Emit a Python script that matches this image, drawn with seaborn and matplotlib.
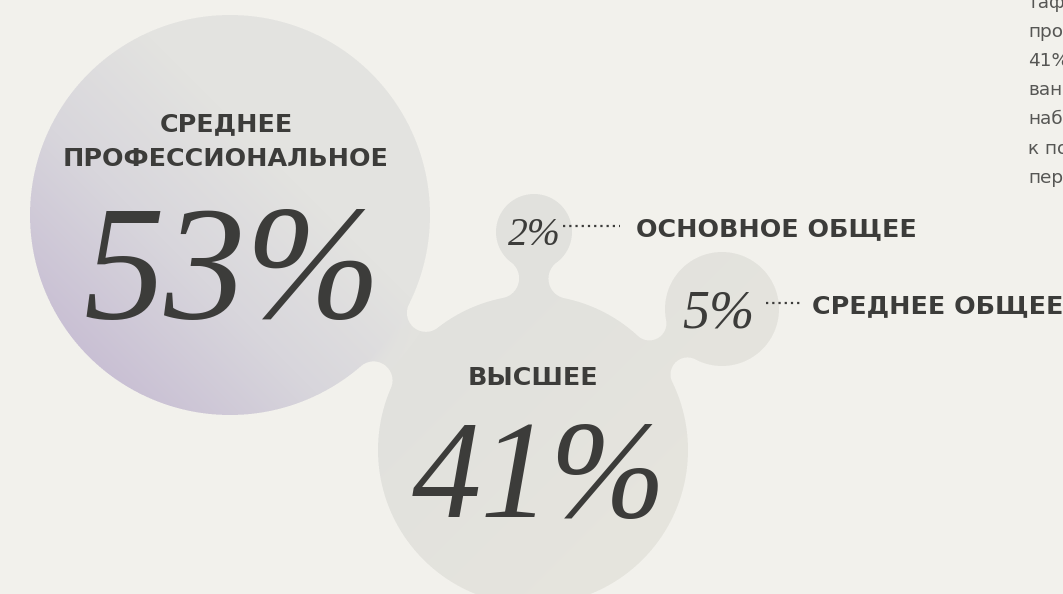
import numpy as np
import matplotlib
matplotlib.use("Agg")
import matplotlib.pyplot as plt
import seaborn as sns

# ---- data ----
level_labels = ["СРЕДНЕЕ\nПРОФЕССИОНАЛЬНОЕ", "ВЫСШЕЕ", "ОСНОВНОЕ ОБЩЕЕ", "СРЕДНЕЕ ОБЩЕЕ"]
shares = [53, 41, 2, 5]
side_lines = ["таф", "про", "41%", "ван", "наб", "к по", "пер"]

# ---- layout (pixel units, y pointing down) ----
W, H = 1063, 594
centers = [(230, 215), (533, 450), (534, 232), (722, 309)]
radii = [200, 155, 38, 57]
# bubble links: (from, to, fillet radius)
links = [(0, 1, 19), (2, 1, 20), (3, 1, 17)]

BG = "#f2f1ec"
INK = "#3c3c3a"

sns.set_theme(style="white", rc={"figure.facecolor": BG, "axes.facecolor": BG})
plt.rcParams["font.family"] = ["DejaVu Sans"]
num_font = dict(family=["Liberation Serif", "DejaVu Serif"], style="italic")


def neck_mask(px, py, c1, r1, c2, r2, R):
    c1 = np.asarray(c1, float)
    c2 = np.asarray(c2, float)
    D = np.linalg.norm(c2 - c1)
    u = (c2 - c1) / D
    n = np.array([-u[1], u[0]])
    a, b = r1 + R, r2 + R
    x = (a * a - b * b + D * D) / (2 * D)
    h = np.sqrt(a * a - x * x)
    s = (px - c1[0]) * u[0] + (py - c1[1]) * u[1]
    t = (px - c1[0]) * n[0] + (py - c1[1]) * n[1]
    lim = h * np.minimum(s / x, (D - s) / (D - x))
    inside = (s >= 0) & (s <= D) & (np.abs(t) <= lim)
    for sign in (1, -1):
        inside &= (s - x) ** 2 + (t - sign * h) ** 2 > R * R
    return inside


# coverage with 3x supersampling
ss = 3
sub = (np.arange(ss) + 0.5) / ss
coverage = np.zeros((H, W))
gy, gx = np.mgrid[0:H, 0:W].astype(float)
for oy in sub:
    for ox in sub:
        px, py = gx + ox, gy + oy
        m = np.zeros((H, W), bool)
        for (cx, cy), r in zip(centers, radii):
            m |= (px - cx) ** 2 + (py - cy) ** 2 <= r * r
        for i, j, R in links:
            m |= neck_mask(px, py, centers[i], radii[i], centers[j], radii[j], R)
        coverage += m
coverage /= ss * ss

# colour: warm grey blobs, lilac tint on the biggest bubble
cx, cy = centers[0]
r0 = radii[0]
px, py = gx + 0.5, gy + 0.5
d_big = np.hypot(px - cx, py - cy) - r0
diag = ((cx - px) + (py - cy)) / (np.sqrt(2) * r0)
tint = np.clip((diag + 0.35) / 1.35, 0, 1) * np.clip(1 - d_big / 25, 0, 1)
lilac = sns.blend_palette(["#e3e3e0", "#d8d6dc", "#c9c0d4"], n_colors=256, as_cmap=True)
rgba = lilac(tint)
# lower blobs: neutral grey, slightly warmer towards the bottom right
warm = np.clip(((px - 450) + (py - 400)) / 400, 0, 1)[..., None]
grey = np.array([0.886, 0.886, 0.870]) * (1 - warm) + np.array([0.904, 0.898, 0.870]) * warm
other = np.clip(d_big / 25, 0, 1)[..., None]
rgba[..., :3] = rgba[..., :3] * (1 - other) + grey * other
rgba[..., 3] = coverage

fig = plt.figure(figsize=(W / 100, H / 100), dpi=100)
ax = fig.add_axes([0, 0, 1, 1])
ax.set_xlim(0, W)
ax.set_ylim(H, 0)
ax.axis("off")
ax.imshow(rgba, extent=(0, W, H, 0), interpolation="bilinear", zorder=1)

label_kw = dict(color=INK, fontweight="bold", fontsize=18.3, zorder=3)

# big bubble
ax.text(226, 131, level_labels[0].split("\n")[0], ha="center", va="baseline", **label_kw)
ax.text(226, 166, level_labels[0].split("\n")[1], ha="center", va="baseline", **label_kw)
ax.text(232, 318, f"{shares[0]}%", ha="center", va="baseline", fontsize=117,
        color=INK, zorder=3, **num_font)

# higher education
ax.text(539, 517, f"{shares[1]}%", ha="center", va="baseline", fontsize=100,
        color=INK, zorder=3, **num_font)
ax.text(533, 385, level_labels[1], ha="center", va="baseline", **label_kw)

# small bubbles with leaders
ax.text(534, 245, f"{shares[2]}%", ha="center", va="baseline", fontsize=28.5,
        color=INK, zorder=3, **num_font)
ax.plot([563, 620], [226, 226], ls=(0, (1, 1.8)), lw=1.6, color=INK, zorder=3,
        dash_capstyle="butt")
ax.text(636, 236, level_labels[2], ha="left", va="baseline", **label_kw)

ax.text(718, 327, f"{shares[3]}%", ha="center", va="baseline", fontsize=39,
        color=INK, zorder=3, **num_font)
ax.plot([766, 802], [303, 303], ls=(0, (1, 1.8)), lw=1.6, color=INK, zorder=3,
        dash_capstyle="butt")
ax.text(812, 313, level_labels[3], ha="left", va="baseline", **label_kw)

# cut-off commentary at the right edge
for k, line in enumerate(side_lines):
    ax.text(1028, 7.5 + 29.25 * k, line, ha="left", va="baseline", fontsize=13.3,
            color="#565654", zorder=3, clip_on=True)

fig.savefig("out.png", dpi=100, facecolor=BG)
